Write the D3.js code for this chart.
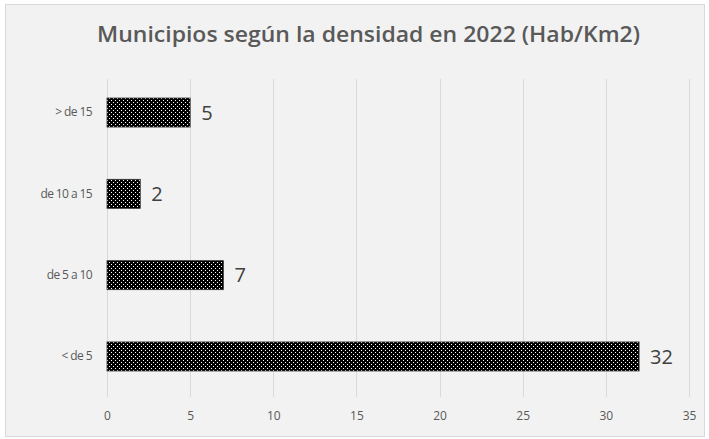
<!DOCTYPE html>
<html>
<head>
<meta charset="utf-8">
<script src="https://cdn.jsdelivr.net/npm/d3@7"></script>
<style>
  body { margin: 0; background: #fff; }
  svg { display: block; }
</style>
</head>
<body>
<svg id="chart"></svg>
<script>
// chart data
const categories = ["> de 15", "de 10 a 15", "de 5 a 10", "< de 5"];
const values = [5, 2, 7, 32];
const xTicks = [0, 5, 10, 15, 20, 25, 30, 35];
const title = "Municipios según la densidad en 2022 (Hab/Km2)";

const width = 709, height = 439;
const margin = { top: 72, right: 20, bottom: 42, left: 107 };

const svg = d3.select('#chart')
    .attr('width', width)
    .attr('height', height);

// pattern for the dotted bars
const defs = svg.append('defs');
const pat = defs.append('pattern')
    .attr('id', 'dots')
    .attr('patternUnits', 'userSpaceOnUse')
    .attr('width', 4)
    .attr('height', 4);
pat.append('rect').attr('width', 4).attr('height', 4).attr('fill', '#000');
pat.append('rect').attr('x', 0).attr('y', 0).attr('width', 1).attr('height', 1).attr('fill', '#fff');
pat.append('rect').attr('x', 2).attr('y', 2).attr('width', 1).attr('height', 1).attr('fill', '#fff');

// background + frame
svg.append('rect')
    .attr('x', 5.5).attr('y', 4.5)
    .attr('width', 699).attr('height', 432)
    .attr('fill', '#f2f2f2')
    .attr('stroke', '#d9d9d9');

svg.append('text')
    .attr('x', 97)
    .attr('y', 42)
    .attr('font-family', 'Open Sans, sans-serif')
    .attr('font-weight', 600)
    .attr('font-size', 21)
    .attr('textLength', 543)
    .attr('lengthAdjust', 'spacingAndGlyphs')
    .attr('fill', '#595959')
    .text(title);

const innerW = width - margin.left - margin.right;
const innerH = height - margin.top - margin.bottom;

const chart = svg.append('g')
    .attr('transform', `translate(${margin.left},${margin.top})`);

const xScale = d3.scaleLinear()
    .domain([0, 35])
    .range([0, 582]);

const yScale = d3.scaleBand()
    .domain(categories)
    .range([0, innerH])
    .paddingInner(0.643)
    .paddingOuter(0.32);

// gridlines
chart.append('g')
    .selectAll('line')
    .data(xTicks)
    .join('line')
    .attr('x1', d => Math.round(xScale(d)) + 0.5)
    .attr('x2', d => Math.round(xScale(d)) + 0.5)
    .attr('y1', 7)
    .attr('y2', innerH)
    .attr('stroke', '#d9d9d9');

// x axis labels
const xAxis = d3.axisBottom(xScale)
    .tickValues(xTicks)
    .tickSize(0)
    .tickPadding(14);
const xAxisG = chart.append('g')
    .attr('transform', `translate(0,${innerH})`)
    .call(xAxis);
xAxisG.select('.domain').remove();
xAxisG.selectAll('text')
    .attr('font-family', 'Open Sans, sans-serif')
    .attr('font-size', 12)
    .attr('fill', '#595959');

// y axis labels
const yAxis = d3.axisLeft(yScale).tickSize(0).tickPadding(15);
const yAxisG = chart.append('g').call(yAxis);
yAxisG.select('.domain').remove();
yAxisG.selectAll('text')
    .attr('font-family', 'Open Sans, sans-serif')
    .attr('font-size', 12)
    .attr('letter-spacing', -0.6)
    .attr('fill', '#595959');

// bars
chart.selectAll('.bar')
    .data(categories)
    .join('rect')
    .attr('class', 'bar')
    .attr('x', xScale(0))
    .attr('y', d => yScale(d))
    .attr('width', (d, i) => xScale(values[i]) - xScale(0))
    .attr('height', yScale.bandwidth())
    .attr('fill', 'url(#dots)')
    .attr('stroke', '#333')
    .attr('stroke-width', 0.8);

// value labels
chart.selectAll('.val')
    .data(categories)
    .join('text')
    .attr('class', 'val')
    .attr('x', (d, i) => xScale(values[i]) + 11)
    .attr('y', d => yScale(d) + yScale.bandwidth() / 2)
    .attr('dy', '0.36em')
    .attr('font-family', 'Open Sans, sans-serif')
    .attr('font-size', 20)
    .attr('fill', '#404040')
    .text((d, i) => values[i]);
</script>
</body>
</html>
